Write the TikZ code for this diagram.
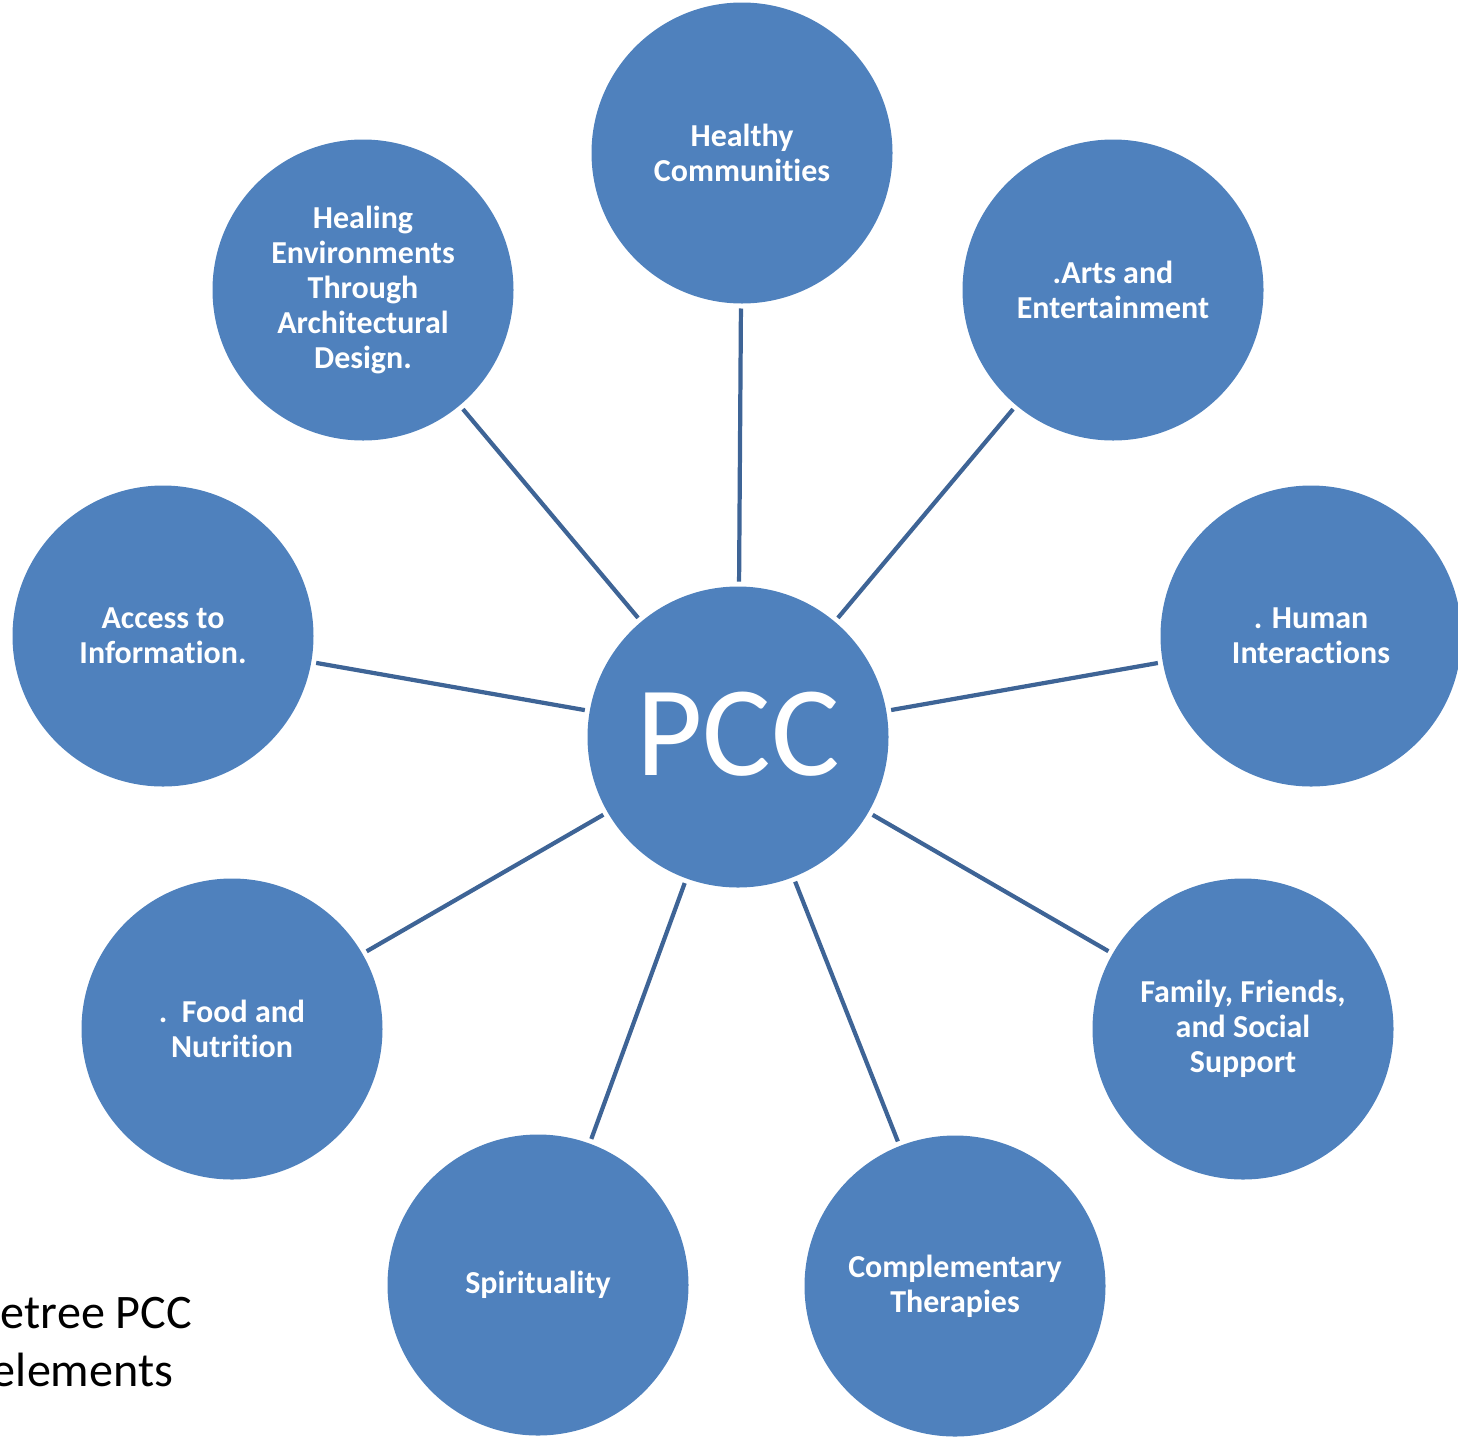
\documentclass[tikz,border=0pt]{standalone}
\usepackage{fontspec}
\setmainfont{Carlito}[Ligatures=NoCommon]
\definecolor{ballblue}{HTML}{4F81BD}
\definecolor{spokeblue}{HTML}{3E6496}
\begin{document}
\begin{tikzpicture}[
	x = 1cm, y = 1cm,
	every node/.style = {circle, fill = ballblue, text = white, minimum size = 3.01cm, inner sep = 0pt, outer sep = 0.05cm, align = center},
	ball/.style = {font = \fontsize{9.1}{10}\selectfont\bfseries},
	hub/.style = {font = \fontsize{36.6}{40}\selectfont},
	spoke/.style = {draw = spokeblue, line width = 1.2pt},
	caption/.style = {circle = false, rectangle, fill = none, text = black, minimum size = 0pt, inner sep = 0pt, outer sep = 0pt, align = left, font = \fontsize{13.7}{16.5}\selectfont}
	]
	\useasboundingbox (0,0) rectangle (14.58,-14.40);

	\begin{scope}[xshift=0cm]
	% centre
	\node[hub] (pcc) at (7.38,-7.37) {\raisebox{1.6pt}{PCC}};
	% outer ring
	\node[ball] (healthy)  at (7.42,-1.53)  {Healthy\\Communities};
	\node[ball] (arts)     at (11.13,-2.90) {.Arts and\\Entertainment};
	\node[ball] (human)    at (13.11,-6.36) {. Human\\Interactions};
	\node[ball] (family)   at (12.43,-10.29) {Family, Friends,\\and Social\\Support};
	\node[ball] (compl)    at (9.55,-12.86) {Complementary\\Therapies};
	\node[ball] (spirit)   at (5.38,-12.85) {Spirituality};
	\node[ball] (food)     at (2.32,-10.29) {.\ \ Food and\\Nutrition};
	\node[ball] (access)   at (1.63,-6.36)  {Access to\\Information.};
	\node[ball] (healing)  at (3.63,-2.90)  {Healing\\Environments\\Through\\Architectural\\Design.};
	\end{scope}

	% connectors
	\foreach \leaf in {healthy, arts, human, family, compl, spirit, food, access, healing}
		\draw[spoke] (pcc) -- (\leaf);

	\node[caption, anchor = base west] (note) at (0.01,-13.86) {etree PCC\\\hspace*{-0.09cm}elements};
\end{tikzpicture}
\end{document}
